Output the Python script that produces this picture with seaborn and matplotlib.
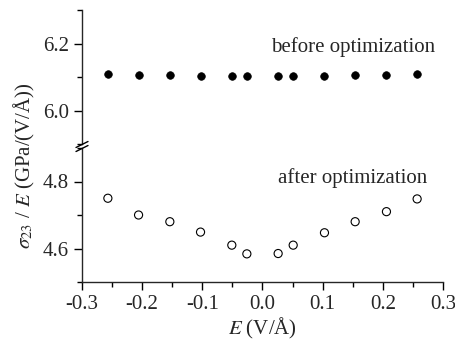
import numpy as np
import pandas as pd
import matplotlib
matplotlib.use("Agg")
import matplotlib.pyplot as plt
from matplotlib.ticker import MultipleLocator
import seaborn as sns

E_field = [-0.257, -0.206, -0.154, -0.103, -0.051, -0.026,
           0.026, 0.051, 0.103, 0.154, 0.206, 0.257]
before_opt = [6.110, 6.107, 6.105, 6.104, 6.103, 6.103,
              6.103, 6.103, 6.104, 6.105, 6.107, 6.110]
after_opt = [4.750, 4.700, 4.680, 4.649, 4.610, 4.584,
             4.585, 4.610, 4.647, 4.680, 4.710, 4.748]
x_ticks = [-0.3, -0.2, -0.1, 0.0, 0.1, 0.2, 0.3]
top_yticks = [6.0, 6.2]
bottom_yticks = [4.6, 4.8]

sns.set_style("ticks")
plt.rcParams['font.family'] = ['Liberation Serif', 'DejaVu Serif']
plt.rcParams['mathtext.fontset'] = 'stix'
plt.rcParams['axes.linewidth'] = 1.0

df = pd.DataFrame({"E": E_field, "before": before_opt, "after": after_opt})

W, H = 456, 345
fig = plt.figure(figsize=(W / 100, H / 100), dpi=100)
left = 82 / W
width = (443 - 82) / W
ax_top = fig.add_axes([left, 1 - 144 / H, width, (144 - 10) / H])
ax_bot = fig.add_axes([left, 1 - 282 / H, width, (282 - 148) / H])

sns.scatterplot(data=df, x="E", y="before", ax=ax_top, color="black",
                s=30, edgecolor="black", linewidth=0.5, legend=False)
sns.scatterplot(data=df, x="E", y="after", ax=ax_bot, facecolor="none",
                s=34, edgecolor="black", linewidth=0.8, legend=False)

for ax in (ax_top, ax_bot):
    ax.set_xlim(-0.3, 0.3)
    for sp in ("top", "right"):
        ax.spines[sp].set_visible(False)
    ax.set_xlabel("")
    ax.set_ylabel("")
    ax.yaxis.set_minor_locator(MultipleLocator(0.1))
    ax.tick_params(axis="both", which="major", direction="out", length=6,
                   width=1.0, labelsize=15, color="black")
    ax.tick_params(axis="both", which="minor", direction="out", length=3.5,
                   width=1.0, color="black")
    ax.patch.set_alpha(0)

ax_top.set_ylim(5.9, 6.3)
ax_top.set_yticks(top_yticks)
ax_top.set_yticklabels([f"{v:.1f}" for v in top_yticks])
ax_top.spines["bottom"].set_visible(False)
ax_top.tick_params(axis="x", which="both", bottom=False, labelbottom=False)

ax_bot.set_ylim(4.5, 4.9)
ax_bot.set_yticks(bottom_yticks)
ax_bot.set_yticklabels([f"{v:.1f}" for v in bottom_yticks])
ax_bot.set_xticks(x_ticks)
ax_bot.set_xticklabels([f"{v:.1f}" for v in x_ticks])
ax_bot.xaxis.set_minor_locator(MultipleLocator(0.05))

# break marks on the left spine
for yy in (146.5 - 2, 146.5 + 2):
    fig.add_artist(plt.Line2D([(82 - 6) / W, (82 + 6) / W],
                              [1 - (yy + 3) / H, 1 - (yy - 3) / H],
                              color="black", lw=1.0))

ax_top.text(0.15, 6.19, "before optimization", ha="center", va="center",
            fontsize=15)
ax_bot.text(0.15, 4.81, "after optimization", ha="center", va="center",
            fontsize=15)

fig.text(0.5 * (82 + 443) / W, 1 - 328 / H, r"$E$ (V/Å)", ha="center",
         va="center", fontsize=15)
fig.text(24 / W, 1 - 166 / H, r"$\sigma_{23}$ / $E$ (GPa/(V/Å))",
         ha="center", va="center", rotation=90, fontsize=15)

fig.savefig("out.png", dpi=100)
